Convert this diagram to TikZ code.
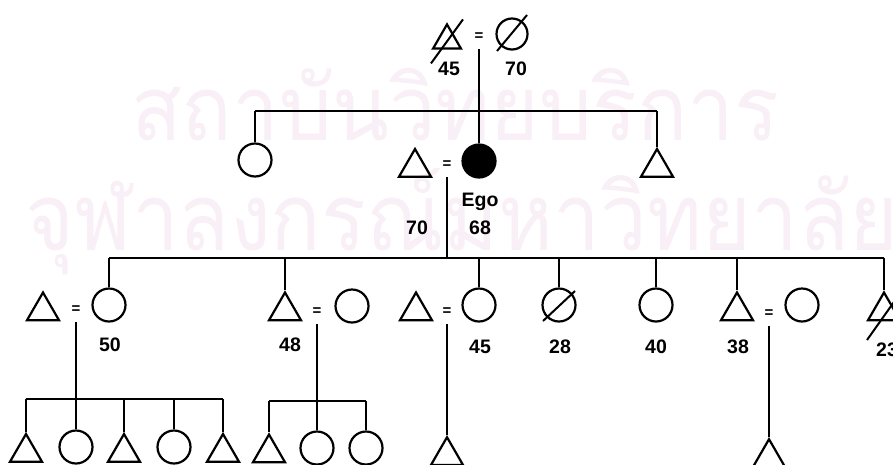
\documentclass[tikz,border=0pt]{standalone}
\usepackage{graphicx}
\usepackage{fontspec}
\setmainfont{Liberation Sans}
\newfontfamily\thaifont[Script=Thai]{Loma}
\usetikzlibrary{shapes.geometric}
\definecolor{wm}{RGB}{249,239,246}
\begin{document}
\begin{tikzpicture}[x=1pt,y=-1pt,
  line width=2pt,
  fem/.style={circle,draw,line width=2.2pt,minimum size=33pt,inner sep=0pt},
  mal/.style={regular polygon,regular polygon sides=3,draw,line width=2.2pt,minimum size=37pt,inner sep=0pt},
  lab/.style={font=\fontsize{19.5}{19.5}\selectfont\bfseries,inner sep=0pt},
  eqs/.style={font=\fontsize{15}{15}\selectfont\bfseries,inner sep=0pt,minimum height=22pt},
  slash/.style={line width=2pt},
  wmark/.style={anchor=base west,inner sep=0pt,text=wm}]
\useasboundingbox (0,0) rectangle (893,464);
\clip (0,0) rectangle (893,464);
% watermark
\node[wmark] (wm1) at (130,140) {\scalebox{1}[1.08]{\resizebox{648pt}{!}{\thaifont สถาบันวิทยบริการ}}};
\node[wmark] (wm2) at (25,250) {\scalebox{1}[1.12]{\resizebox{872pt}{!}{\thaifont จุฬาลงกรณ์มหาวิทยาลัย}}};
% generation 1
\node[mal,minimum size=32pt] (gf) at (447,40.4) {};
\draw[slash] (gf.center) ++(-16,23) -- ++(32,-44);
\node[eqs] (eq1) at (479,37) {=};
\node[fem,minimum size=31pt] (gm) at (512,34) {};
\draw[slash] (gm.center) ++(-15,17) -- ++(30,-36);
\node[lab] (l45a) at (449,69) {45};
\node[lab] (l70a) at (516,69) {70};
% generation 2
\coordinate (s2L) at (255,111);
\coordinate (s2R) at (657,111);
\node[fem] (a1) at (255,160) {};
\node[mal] (h) at (415,167.5) {};
\node[eqs] (eq2) at (447,165) {=};
\node[fem,fill=black] (ego) at (479,161) {};
\node[mal] (a3) at (657,167.5) {};
\node[lab] (lego) at (480,202) {Ego};
\node[lab] (l68) at (480,228) {68};
\node[lab] (l70b) at (417,228) {70};
\draw (eq1.south) -- (ego.north);
\draw (s2L) -- (s2R);
\draw (a1.north) -- (s2L);
\draw (a3.corner 1) -- (s2R);
% generation 3
\coordinate (s3L) at (109,258);
\coordinate (s3R) at (884,258);
\draw (eq2.south) -- (eq2.south |- s3L);
\draw (s3L) -- (s3R);
\node[mal] (h1) at (43,311) {};
\node[eqs] (eq3) at (76,310) {=};
\node[fem] (c1) at (109,305) {};
\node[mal] (c2) at (285,311) {};
\node[eqs] (eq4) at (317,312) {=};
\node[fem] (w2) at (352,306) {};
\node[mal] (h3) at (416,311) {};
\node[eqs] (eq5) at (447,312) {=};
\node[fem] (c3) at (479,305) {};
\node[fem] (c4) at (559,305) {};
\draw[slash] (c4.center) ++(-16,16) -- ++(32,-30);
\node[fem] (c5) at (656,305) {};
\node[mal] (c6) at (737,311) {};
\node[eqs] (eq6) at (769,314) {=};
\node[fem] (w6) at (802,305) {};
\node[mal] (c7) at (884,311) {};
\draw[slash] (c7.center) ++(-17,29) -- ++(34,-48);
\node[lab] (l50) at (110,345) {50};
\node[lab] (l48) at (290,345) {48};
\node[lab] (l45b) at (480,347) {45};
\node[lab] (l28) at (560,347) {28};
\node[lab] (l40) at (656,347) {40};
\node[lab] (l38) at (738,347) {38};
\node[lab] (l23) at (887,350) {23};
\foreach \n in {c1,c3,c4,c5} \draw (\n.north) -- (\n.north |- s3L);
\foreach \n in {c2,c6,c7} \draw (\n.corner 1) -- (\n.corner 1 |- s3L);
% generation 4, family 1
\coordinate (g1L) at (26,399);
\coordinate (g1R) at (223,399);
\node[mal] (k11) at (26,452.5) {};
\node[fem] (k12) at (76,447) {};
\node[mal] (k13) at (124,452.5) {};
\node[fem] (k14) at (174,447) {};
\node[mal] (k15) at (223,452.5) {};
\draw (eq3.south) -- (k12.north);
\draw (g1L) -- (g1R);
\foreach \n in {k11,k13,k15} \draw (\n.corner 1) -- (\n.corner 1 |- g1L);
\draw (k14.north) -- (k14.north |- g1L);
% generation 4, family 2
\coordinate (g2L) at (269,401);
\coordinate (g2R) at (366,401);
\node[mal] (k21) at (269,453) {};
\node[fem] (k22) at (317,448) {};
\node[fem] (k23) at (366,448) {};
\draw (eq4.south) -- (k22.north);
\draw (g2L) -- (g2R);
\draw (k21.corner 1) -- (k21.corner 1 |- g2L);
\draw (k23.north) -- (k23.north |- g2L);
% generation 4, families 3 and 6
\node[mal] (k31) at (447,455.7) {};
\draw (eq5.south) -- (k31.corner 1);
\node[mal] (k61) at (769,457.7) {};
\draw (eq6.south) -- (k61.corner 1);
\end{tikzpicture}
\end{document}
